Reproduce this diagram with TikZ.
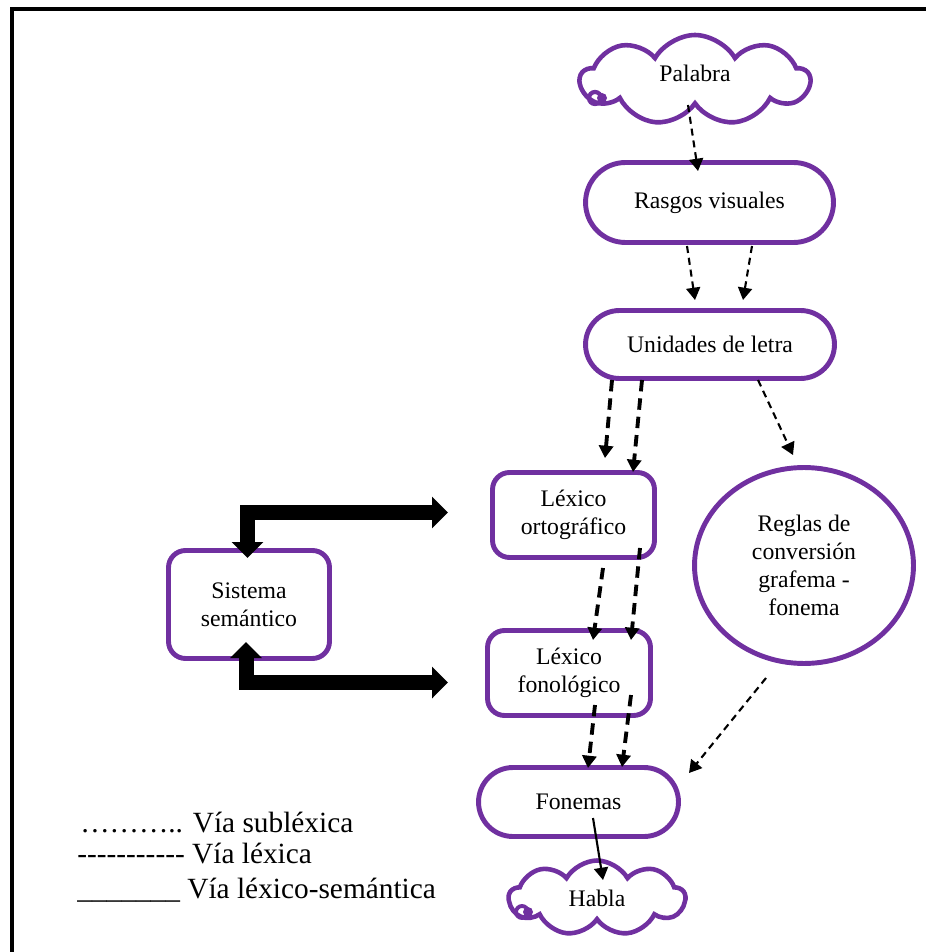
\documentclass[tikz,border=0pt]{standalone}
\usepackage{fontspec}
\setmainfont{Liberation Serif}
\usetikzlibrary{shapes.misc,shapes.geometric,shapes.symbols,arrows.meta,calc}

\definecolor{wordpurple}{RGB}{112,48,160}
\newcommand{\boxfont}{\fontsize{13.5}{16}\selectfont}
\newcommand{\legfont}{\fontsize{16.7}{19}\selectfont}
\newcommand{\hyph}{-\kern0pt}

\tikzset{
  outline/.style={draw=wordpurple, line width=2.8pt, fill=white, font=\boxfont,
    align=center, inner sep=0pt, outer sep=0pt},
  stadium/.style={outline, rounded rectangle},
  roundbox/.style={outline, rectangle, rounded corners=0.34cm},
  rulebubble/.style={outline, ellipse},
  puff/.style={outline, cloud, cloud puffs=9, cloud puff arc=120, aspect=2.5, line width=2.6pt},
  sublex/.style={->, line width=1.2pt, dash pattern=on 4pt off 2.8pt},
  lexical/.style={->, line width=2.2pt, dash pattern=on 6.5pt off 4pt},
  semantic/.style={->, line width=1.2pt},
  bigarrow/.style={{Triangle[length=0.32cm,width=0.62cm]}-{Triangle[length=0.32cm,width=0.62cm]},
    line width=0.3cm, line join=miter},
  legend/.style={font=\legfont, anchor=base west, inner sep=0pt}
}

\begin{document}
\begin{tikzpicture}[x=0.02cm, y=-0.02cm, >={Triangle[length=7pt,width=8pt]}]
        \useasboundingbox (0,0) rectangle (926,952);

        % Frame (only top and left show)
        \draw[line width=2.3pt] (12,952) -- (12,9) -- (926,9);

        % Define nodes
        \node[puff, minimum width=4.58cm, minimum height=1.8cm] (palabra) at (695, 80) {\raisebox{8pt}{Palabra}};
        \node[stadium, minimum width=4.96cm, minimum height=1.6cm] (rasgos) at (709.5, 202.5) {Rasgos visuales};
        \node[stadium, minimum width=4.98cm, minimum height=1.36cm] (unidades) at (710, 344.5) {Unidades de letra};
        \node[roundbox, minimum width=3.24cm, minimum height=1.7cm] (lexort) at (573.5, 515) {Léxico\\ortográfico};
        \node[rulebubble, minimum width=4.38cm, minimum height=3.92cm] (reglas) at (804, 565.5) {Reglas de\\conversión\\grafema -\\fonema};
        \node[roundbox, minimum width=3.22cm, minimum height=2.16cm] (sem) at (249, 604.5) {Sistema\\semántico};
        \node[roundbox, minimum width=3.26cm, minimum height=1.7cm] (lexfon) at (569, 673) {Léxico\\fonológico};
        \node[stadium, minimum width=4cm, minimum height=1.38cm] (fonemas) at (578.5, 802) {Fonemas};
        \node[puff, minimum width=3.52cm, minimum height=1.5cm] (habla) at (597, 898) {Habla};

        % Little loops of the clouds
        \draw[wordpurple, line width=2.4pt] ($(palabra)+(-100,18)$) circle (6);
        \fill[wordpurple] ($(palabra)+(-93,18)$) circle (5);
        \draw[wordpurple, line width=2.2pt] ($(habla)+(-75,14)$) circle (6);
        \fill[wordpurple] ($(habla)+(-69,14)$) circle (5);

        % Sublexical route
        \draw[sublex] ($(palabra)+(-7,25)$) -- ($(rasgos)+(-11.5,-31.5)$);
        \draw[sublex] ($(rasgos)+(-22.5,43.5)$) -- ($(unidades)+(-15,-44.5)$);
        \draw[sublex] ($(rasgos)+(42.5,43.5)$) -- ($(unidades)+(33,-44.5)$);
        \draw[sublex] ($(unidades)+(48,35.5)$) -- ($(reglas)+(-11,-110.5)$);
        \draw[sublex] ($(reglas)+(-38,112.5)$) -- ($(fonemas)+(110.5,-29)$);

        % Lexical route
        \draw[lexical] ($(unidades)+(-98,35.5)$) -- ($(lexort)+(31.5,-57)$);
        \draw[lexical] ($(unidades)+(-68,35.5)$) -- ($(lexort)+(59.5,-43)$);
        \draw[lexical] ($(lexort)+(29.5,53)$) -- ($(lexfon)+(24,-33)$);
        \draw[lexical] ($(lexort)+(66.5,33)$) -- ($(lexfon)+(62,-33)$);
        \draw[lexical] ($(lexfon)+(26,32)$) -- ($(fonemas)+(9.5,-34)$);
        \draw[lexical] ($(lexfon)+(62,22)$) -- ($(fonemas)+(43.5,-35)$);

        % Lexical-semantic route
        \draw[bigarrow] ($(sem)+(-1.5,-46.5)$) |- ($(lexort)+(-125.5,-2.5)$);
        \draw[bigarrow] ($(sem)+(-3,37.5)$) |- ($(lexfon)+(-121,9.5)$);
        \draw[semantic] ($(fonemas)+(14.5,16)$) -- ($(habla)+(6,-18)$);

        % Legend
        \node[legend] (leg1) at (80, 832) {……….. Vía subléxica};
        \node[legend] (leg2) at (77, 863) {\hyph\hyph\hyph\hyph\hyph\hyph\hyph\hyph\hyph\hyph\hyph{} Vía léxica};
        \node[legend] (leg3) at (77, 898) {\textunderscore\textunderscore\textunderscore\textunderscore\textunderscore\textunderscore\textunderscore{} Vía léxico-semántica};

    \end{tikzpicture}
\end{document}
